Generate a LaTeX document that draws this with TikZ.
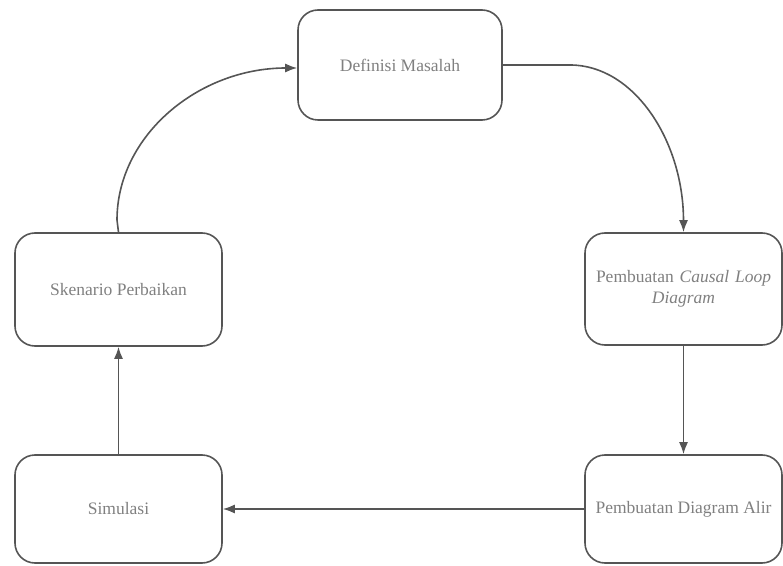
\documentclass[tikz,border=0pt]{standalone}
\usepackage{fontspec}
\setmainfont{Liberation Serif}
\usetikzlibrary{arrows.meta}
\definecolor{linec}{HTML}{555555}
\definecolor{textc}{HTML}{808080}
\tikzset{
  box/.style={draw=linec, line width=1.6pt, rounded corners=20pt, align=center,
    text=textc, font=\fontsize{17.5}{21}\selectfont, inner sep=2pt},
  conn/.style={draw=linec, line width=1.6pt, -{Latex[length=12pt,width=9pt]}}
}
\begin{document}
\begin{tikzpicture}[x=1pt,y=1pt]
\useasboundingbox (0,0) rectangle (783,565);
\node[box, minimum width=204pt, minimum height=110pt] (defi) at (400,500) {Definisi Masalah};
\node[box, minimum width=207pt, minimum height=113pt] (sken) at (118.5,275.5) {Skenario Perbaikan};
\node[box, minimum width=197pt, minimum height=112pt, text width=190pt] (cld) at (683.5,276) {Pembuatan \textit{Causal Loop}\\ \textit{Diagram}};
\node[box, minimum width=207pt, minimum height=108pt] (simu) at (118.5,56) {Simulasi};
\node[box, minimum width=197pt, minimum height=108pt] (alir) at (683.5,56) {Pembuatan Diagram Alir};
\coordinate (r1) at (570,500);
\coordinate (l1) at (117,345);
\draw[conn] (defi.east) -- (r1) .. controls (634,500) and (683.5,424) .. (cld.north);
\draw[conn] (sken.north) -- (l1) .. controls (117,429) and (198,497) .. ([yshift=-3pt]defi.west);
\draw[conn] (cld.south) -- (alir.north);
\draw[conn] (alir.west) -- (simu.east);
\draw[conn] (simu.north) -- (sken.south);
\end{tikzpicture}
\end{document}
